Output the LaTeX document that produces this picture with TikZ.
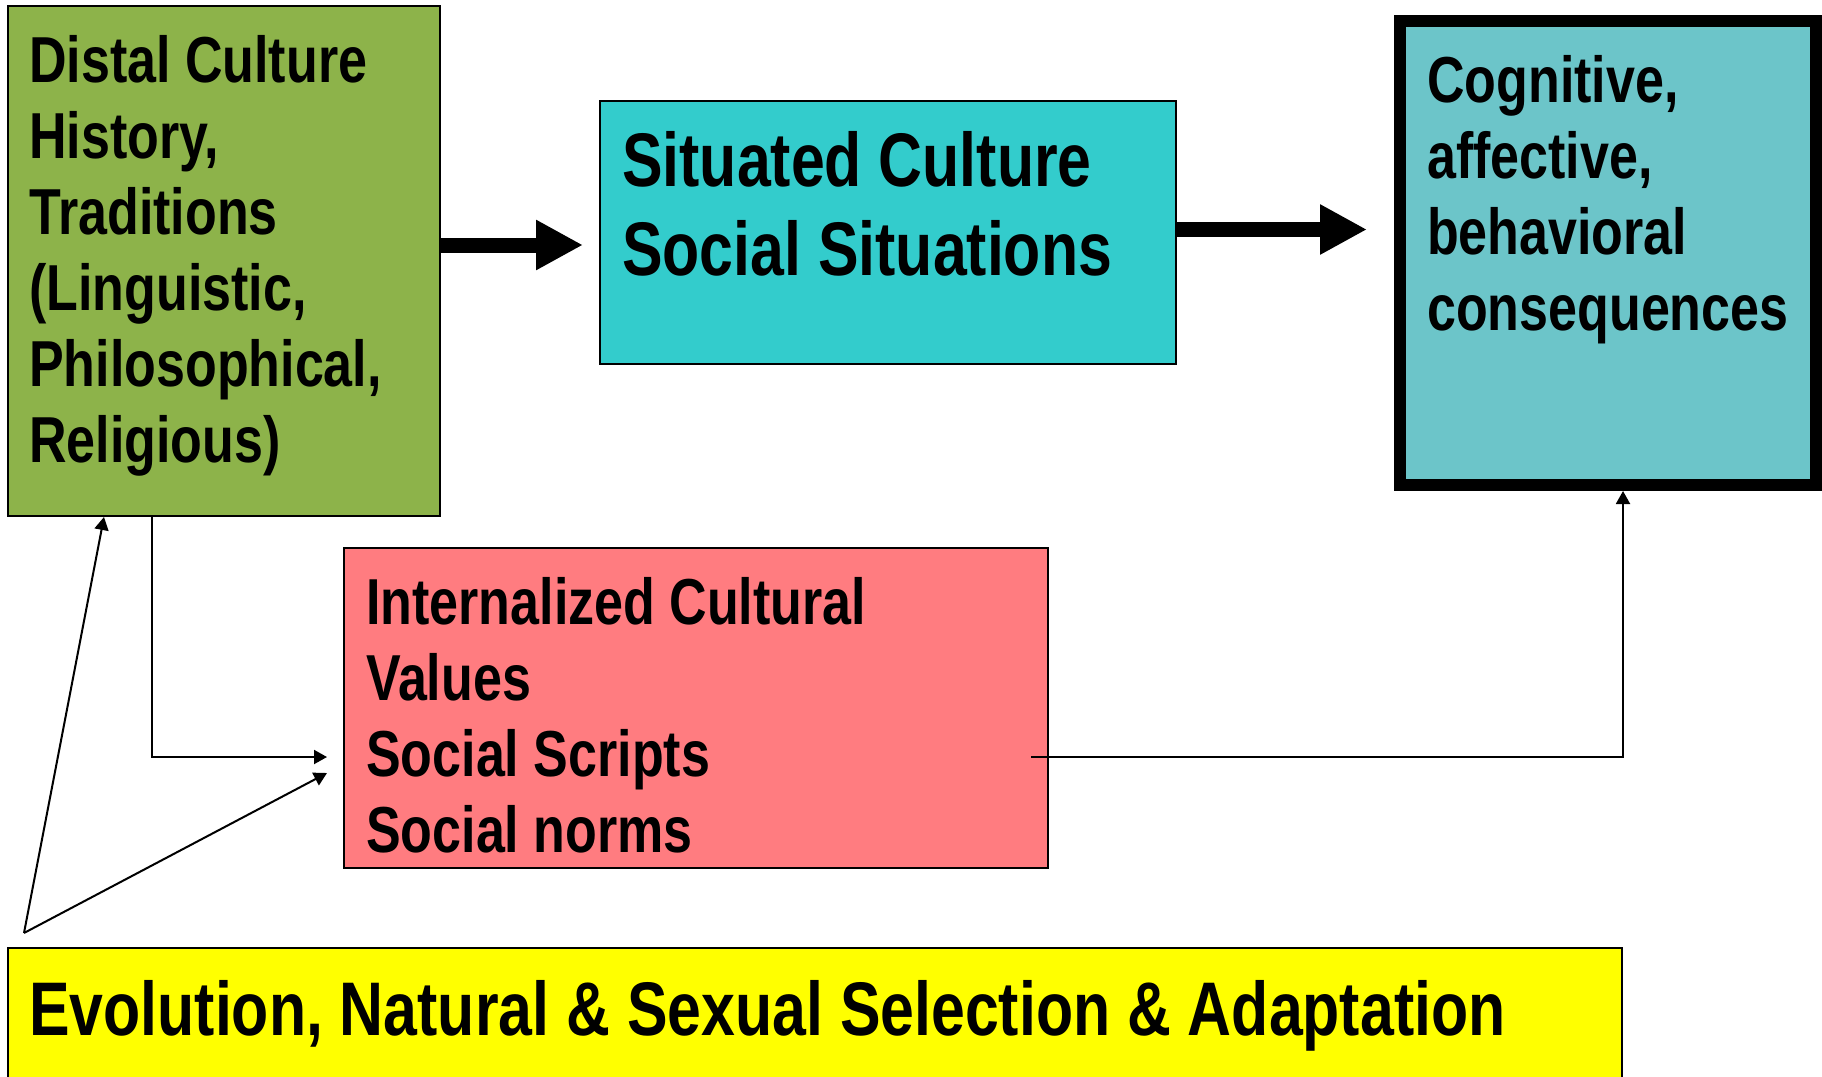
\documentclass[tikz,border=0pt]{standalone}
\usepackage{fontspec}
\setmainfont[FakeStretch=0.8]{Liberation Sans}
\usetikzlibrary{positioning,arrows.meta}

\definecolor{distalgreen}{RGB}{141,179,74}
\definecolor{situcyan}{RGB}{51,204,204}
\definecolor{conseqteal}{RGB}{108,197,201}
\definecolor{normpink}{RGB}{255,124,128}
\definecolor{evoyellow}{RGB}{255,255,0}

\begin{document}
\begin{tikzpicture}[x=1pt, y=-1pt,
    box/.style={draw, line width=2pt, inner sep=0pt, anchor=north west},
    txt/.style={inner sep=0pt, align=left, font=\fontsize{65}{76}\selectfont\bfseries},
    bigtxt/.style={txt, font=\fontsize{76}{89}\selectfont\bfseries},
    fat/.style={line width=15pt, -{Triangle[length=47pt,width=47pt]}},
    link/.style={line width=2pt, -{Triangle[length=13pt,width=14pt]}}]
    \useasboundingbox (0,0) rectangle (1822,1076);
    \clip (0,0) rectangle (1822,1076);

    % boxes
    \node (distal) [box, fill=distalgreen, minimum width=432pt, minimum height=510pt] at (7,5) {};
    \node (situated) [box, fill=situcyan, minimum width=576pt, minimum height=263pt] at (599,100) {};
    \node (conseq) [box, line width=12pt, fill=conseqteal, minimum width=416pt, minimum height=464pt] at (1394,15) {};
    \node (pink) [box, fill=normpink, minimum width=704pt, minimum height=320pt] at (343,547) {};
    \node (evo) [box, fill=evoyellow, minimum width=1614pt, minimum height=200pt] at (7,947) {};

    % texts
    \node (distaltext) [txt, below right=30pt and 22pt of distal.north west]
        {Distal Culture\\History,\\Traditions\\(Linguistic,\\Philosophical,\\Religious)};
    \node (situatedtext) [bigtxt, below right=31pt and 23pt of situated.north west]
        {Situated Culture\\Social Situations};
    \node (conseqtext) [txt, below right=40pt and 33pt of conseq.north west]
        {Cognitive,\\affective,\\behavioral\\consequences};
    \node (pinktext) [txt, below right=30pt and 23pt of pink.north west]
        {Internalized Cultural\\Values\\Social Scripts\\Social norms};
    \node (evotext) [bigtxt, below right=33pt and 22pt of evo.north west]
        {Evolution, Natural \& Sexual Selection \& Adaptation};

    \coordinate (root) at (24,933);
    \coordinate (drop) at (152,757);
    \coordinate (bend) at (1623,757);

    % connectors
    \draw[fat] ([yshift=16pt]distal.east) -- ([xshift=-16pt,yshift=-12.5pt]situated.west);
    \draw[fat] ([yshift=3pt]situated.east) -- ([xshift=-27pt,yshift=23.5pt]conseq.west);
    \draw[link] (distal.south -| drop) |- ([xshift=-16pt]pink.west |- drop);
    \draw[link] (root) -- ([xshift=-120pt]distal.south);
    \draw[link] (root) -- ([xshift=-16pt,yshift=-65pt]pink.west);
    \draw[link] ([xshift=-18pt]pink.east |- bend) -- (bend) -- (conseq.south -| bend);
\end{tikzpicture}
\end{document}
